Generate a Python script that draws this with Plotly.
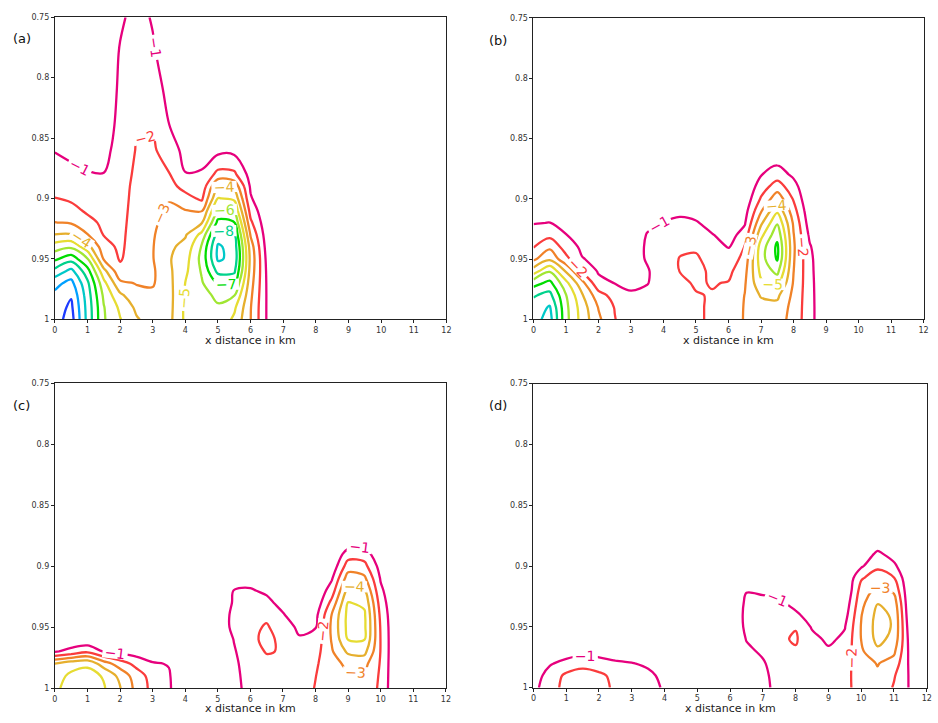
import numpy as np
import plotly.graph_objects as go

# ---------------- data ----------------
X_KM = [0, 0.5, 1, 1.5, 2, 2.5, 3, 3.5, 4, 4.5, 5, 5.5, 6, 6.5, 7, 7.5, 8, 8.5,
        9, 9.5, 10, 10.5, 11, 11.5, 12]
Y_LEV = [0.75, 0.78, 0.81, 0.84, 0.86, 0.88, 0.89, 0.90, 0.91, 0.92, 0.93,
         0.94, 0.95, 0.96, 0.97, 0.98, 0.99, 1.0]
ZERO = [0] * 18

# each inner list = one x column (top -> bottom along Y_LEV)
PANEL_A = [
    [0, 0, -0.2, -0.6, -0.95, -1.45, -1.7, -2.02, -2.5, -3.02, -4.02, -5.5, -6.8, -8.3, -9.7, -10.2, -10.5, -10.6],
    [0, 0, -0.2, -0.5, -0.8, -1.2, -1.5, -1.85, -2.3, -2.9, -4.1, -5.8, -7.6, -9.3, -10.3, -10.9, -11.2, -11.4],
    [0, 0, -0.2, -0.45, -0.7, -1.05, -1.3, -1.55, -1.85, -2.3, -3.05, -4.4, -6.05, -7.4, -8.2, -8.5, -8.65, -8.7],
    [0, 0, -0.2, -0.45, -0.7, -1.02, -1.2, -1.4, -1.6, -1.8, -1.95, -2.4, -2.9, -4.3, -5.3, -5.8, -6.05, -6.1],
    [-0.8, -1.1, -1.2, -1.3, -1.4, -1.5, -1.55, -1.6, -1.65, -1.7, -1.75, -1.8, -1.9, -2.3, -3.2, -4.2, -4.8, -5.05],
    [-1.4, -1.5, -1.7, -1.9, -2.05, -2.2, -2.3, -2.35, -2.4, -2.45, -2.5, -2.55, -2.6, -2.75, -2.95, -3.3, -3.8, -4.1],
    [-0.9, -1.15, -1.5, -1.9, -2.15, -2.4, -2.5, -2.6, -2.7, -2.8, -2.9, -2.95, -2.95, -2.85, -2.9, -3.2, -3.5, -3.6],
    [-0.2, -0.4, -0.7, -1.02, -1.5, -2.05, -2.4, -2.9, -3.2, -3.4, -3.6, -3.8, -3.9, -3.8, -3.7, -3.65, -3.65, -3.7],
    [-0.1, -0.1, -0.2, -0.4, -0.7, -1.03, -1.6, -2.4, -3.03, -3.5, -3.9, -4.3, -4.6, -4.8, -5.02, -5.1, -5.2, -5.2],
    [0, 0, 0, -0.3, -0.6, -1.1, -1.3, -1.8, -2.9, -3.9, -5.3, -6.1, -6.3, -6.1, -5.9, -5.7, -5.6, -5.6],
    [0, 0, 0, -0.2, -0.7, -2.3, -4.05, -5.05, -6.2, -7.3, -8.5, -9.15, -9.15, -8.3, -7.05, -6.2, -5.9, -5.8],
    [0, 0, 0, -0.2, -0.7, -2.2, -3.7, -4.8, -5.9, -7.05, -8.05, -8.6, -8.7, -8.2, -7.1, -6.05, -5.2, -4.8],
    [0, 0, 0, 0, 0, -0.6, -0.85, -1.1, -1.6, -2.2, -2.9, -3.5, -3.7, -3.6, -3.4, -3.2, -3.05, -3.02],
    [0, 0, 0, 0, 0, 0, 0, -0.1, -0.2, -0.3, -0.45, -0.6, -0.75, -0.85, -0.9, -0.92, -0.92, -0.92],
    ZERO, ZERO, ZERO, ZERO, ZERO, ZERO, ZERO, ZERO, ZERO, ZERO, ZERO,
]

PANEL_B = [
    [0, 0, 0, 0, 0, 0, 0, -0.1, -0.5, -0.95, -1.4, -1.95, -2.8, -4.5, -6.6, -7.9, -8.4, -8.6],
    [0, 0, 0, 0, 0, 0, 0, -0.2, -0.6, -1.02, -1.7, -2.8, -3.8, -5.9, -7.3, -8.3, -9.1, -9.4],
    [0, 0, 0, 0, 0, 0, 0, -0.1, -0.35, -0.7, -1.03, -1.55, -2.3, -3.9, -5.3, -6.05, -6.25, -6.3],
    [0, 0, 0, 0, 0, 0, 0, 0, -0.1, -0.25, -0.5, -0.8, -1.05, -1.9, -3.3, -4.1, -4.5, -4.6],
    [0, 0, 0, 0, 0, 0, 0, 0, -0.1, -0.2, -0.35, -0.55, -0.75, -0.9, -1.3, -2.4, -2.95, -3.2],
    [0, 0, 0, 0, 0, 0, 0, 0, 0, -0.1, -0.3, -0.5, -0.7, -0.85, -0.98, -1.6, -1.95, -2.05],
    [0, 0, 0, 0, 0, 0, 0, 0, 0, -0.2, -0.4, -0.6, -0.75, -0.85, -0.92, -1.05, -1.15, -1.2],
    [0, 0, 0, 0, 0, 0, 0, -0.1, -0.4, -0.8, -1.05, -1.1, -1.05, -0.95, -0.97, -1.2, -1.35, -1.4],
    [0, 0, 0, 0, 0, 0, 0, -0.3, -0.7, -1.02, -1.2, -1.3, -1.35, -1.3, -1.35, -1.4, -1.45, -1.5],
    [0, 0, 0, 0, 0, 0, 0, -0.4, -0.8, -1.2, -1.5, -1.8, -2.05, -2.02, -1.8, -1.7, -1.7, -1.7],
    [0, 0, 0, 0, 0, 0, 0, -0.3, -0.6, -1.1, -1.5, -1.85, -2.15, -2.3, -2.1, -1.95, -1.9, -1.9],
    [0, 0, 0, 0, 0, 0, 0, -0.1, -0.3, -0.6, -1.05, -1.4, -1.6, -1.8, -1.95, -2.05, -2.1, -2.1],
    [0, 0, 0, 0, 0, 0, 0, 0, -0.1, -0.3, -0.6, -0.95, -1.3, -1.75, -2.05, -2.3, -2.5, -2.6],
    [0, 0, 0, 0, 0, 0, -0.1, -0.3, -0.6, -0.9, -1.4, -2.05, -2.4, -2.7, -2.9, -3.02, -3.05, -3.05],
    [0, 0, 0, 0, -0.1, -0.95, -1.5, -2.1, -2.9, -3.8, -4.7, -5.5, -5.6, -5.3, -4.8, -4.1, -3.6, -3.4],
    [0, 0, 0, 0, -0.2, -1.5, -2.5, -3.6, -4.8, -5.9, -6.7, -7.2, -7.1, -6.3, -5.3, -4.2, -3.7, -3.5],
    [0, 0, 0, 0, -0.1, -0.8, -1.4, -1.9, -2.4, -2.85, -3.05, -3.15, -3.1, -3.02, -2.9, -2.75, -2.65, -2.6],
    [0, 0, 0, 0, 0, 0, 0, -0.1, -0.3, -0.5, -0.8, -1.1, -1.25, -1.3, -1.35, -1.38, -1.4, -1.4],
    ZERO, ZERO, ZERO, ZERO, ZERO, ZERO, ZERO,
]

PANEL_C = [
    [0, 0, 0, 0, 0, 0, 0, 0, 0, 0, 0, 0, 0, 0, -0.9, -4.02, -4.6, -4.8],
    [0, 0, 0, 0, 0, 0, 0, 0, 0, 0, 0, 0, 0, -0.3, -1.3, -4.6, -5.2, -5.4],
    [0, 0, 0, 0, 0, 0, 0, 0, 0, 0, 0, 0, 0, -0.2, -1.8, -4.8, -5.4, -5.5],
    [0, 0, 0, 0, 0, 0, 0, 0, 0, 0, 0, 0, 0, -0.2, -0.95, -3.5, -4.9, -5.1],
    [0, 0, 0, 0, 0, 0, 0, 0, 0, 0, 0, 0, 0, -0.1, -0.7, -2.5, -3.7, -4.05],
    [0, 0, 0, 0, 0, 0, 0, 0, 0, 0, 0, 0, 0, 0, -0.5, -1.7, -2.5, -2.7],
    [0, 0, 0, 0, 0, 0, 0, 0, 0, 0, 0, 0, 0, 0, -0.3, -1.1, -1.6, -1.7],
    [0, 0, 0, 0, 0, 0, 0, 0, 0, 0, 0, 0, 0, 0, -0.1, -0.95, -1.1, -1.15],
    ZERO, ZERO, ZERO,
    [0, 0, 0, 0, 0, 0, 0, 0, 0, -1.05, -1.15, -1.4, -1.4, -1.05, -0.9, -0.8, -0.75, -0.7],
    [0, 0, 0, 0, 0, 0, 0, 0, -0.6, -1.1, -1.4, -1.6, -1.75, -1.8, -1.7, -1.5, -1.4, -1.35],
    [0, 0, 0, 0, 0, 0, 0, 0, -0.3, -0.8, -1.3, -1.8, -2.1, -2.2, -2.05, -1.8, -1.65, -1.6],
    [0, 0, 0, 0, 0, 0, 0, 0, 0, -0.1, -0.6, -1.1, -1.5, -1.8, -1.95, -1.85, -1.7, -1.6],
    [0, 0, 0, 0, 0, 0, 0, 0, 0, 0, 0, -0.3, -0.8, -1.1, -1.3, -1.4, -1.45, -1.5],
    [0, 0, 0, 0, 0, 0, 0, 0, 0, -0.1, -0.3, -0.7, -0.95, -1.3, -1.6, -1.85, -1.98, -2.05],
    [0, 0, 0, 0, 0, 0, 0, -0.3, -0.9, -1.5, -2.3, -3.05, -3.2, -3.1, -2.9, -2.7, -2.55, -2.5],
    [0, 0, 0, 0, 0, -0.3, -1.5, -2.5, -3.5, -4.4, -5.05, -5.3, -5.3, -5.05, -4.2, -3.2, -2.9, -2.8],
    [0, 0, 0, 0, 0, -0.7, -1.5, -2.3, -3.2, -4.05, -4.8, -5.15, -5.2, -5.05, -4.3, -3.3, -2.85, -2.7],
    [0, 0, 0, 0, 0, 0, -0.2, -0.6, -0.9, -1.2, -1.5, -1.75, -1.9, -1.95, -1.95, -1.9, -1.85, -1.8],
    ZERO, ZERO, ZERO, ZERO,
]

PANEL_D = [
    [0, 0, 0, 0, 0, 0, 0, 0, 0, 0, 0, 0, 0, 0, 0, -0.2, -0.5, -0.7],
    [0, 0, 0, 0, 0, 0, 0, 0, 0, 0, 0, 0, 0, 0, -0.3, -0.9, -1.4, -1.6],
    [0, 0, 0, 0, 0, 0, 0, 0, 0, 0, 0, 0, 0, 0, -0.5, -1.3, -2.2, -2.3],
    [0, 0, 0, 0, 0, 0, 0, 0, 0, 0, 0, 0, 0, 0, -0.6, -1.7, -2.4, -2.45],
    [0, 0, 0, 0, 0, 0, 0, 0, 0, 0, 0, 0, 0, 0, -0.5, -1.5, -2.2, -2.3],
    [0, 0, 0, 0, 0, 0, 0, 0, 0, 0, 0, 0, 0, 0, -0.3, -1.2, -1.75, -1.85],
    [0, 0, 0, 0, 0, 0, 0, 0, 0, 0, 0, 0, 0, 0, -0.2, -1.05, -1.45, -1.5],
    [0, 0, 0, 0, 0, 0, 0, 0, 0, 0, 0, 0, 0, 0, -0.1, -0.8, -1.25, -1.3],
    [0, 0, 0, 0, 0, 0, 0, 0, 0, 0, 0, 0, 0, 0, 0, -0.2, -0.7, -0.9],
    ZERO, ZERO, ZERO, ZERO,
    [0, 0, 0, 0, 0, 0, 0, 0, 0, -0.95, -1.2, -1.3, -1.25, -1.05, -0.8, -0.6, -0.5, -0.45],
    [0, 0, 0, 0, 0, 0, 0, 0, 0, -0.8, -1.3, -1.5, -1.6, -1.5, -1.15, -0.9, -0.8, -0.75],
    [0, 0, 0, 0, 0, 0, 0, 0, 0, -0.6, -1.2, -1.5, -1.75, -1.85, -1.75, -1.5, -1.35, -1.3],
    [0, 0, 0, 0, 0, 0, 0, 0, 0, 0, -0.6, -1.2, -1.95, -2.1, -1.9, -1.7, -1.6, -1.55],
    [0, 0, 0, 0, 0, 0, 0, 0, 0, 0, 0, -0.5, -0.9, -1.3, -1.5, -1.6, -1.65, -1.65],
    [0, 0, 0, 0, 0, 0, 0, 0, 0, 0, 0, 0, -0.3, -0.8, -1.15, -1.5, -1.7, -1.75],
    [0, 0, 0, 0, 0, 0, 0, 0, 0, 0, -0.3, -0.6, -0.95, -1.2, -1.4, -1.6, -1.75, -1.8],
    [0, 0, 0, 0, 0, 0, -0.3, -0.85, -1.9, -2.4, -2.7, -2.95, -3.05, -3.02, -2.85, -2.6, -2.4, -2.3],
    [0, 0, 0, 0, 0, -0.4, -1.2, -1.8, -2.5, -3.3, -3.95, -4.3, -4.4, -4.3, -3.8, -3.05, -2.85, -2.8],
    [0, 0, 0, 0, 0, 0, -0.6, -1.2, -2.05, -2.8, -3.5, -3.85, -3.9, -3.7, -3.2, -2.6, -2.1, -1.9],
    [0, 0, 0, 0, 0, 0, 0, 0, 0, 0, 0, -0.1, -0.3, -0.5, -0.65, -0.75, -0.85, -0.88],
    ZERO,
]

PANEL_TAGS = ["(a)", "(b)", "(c)", "(d)"]
Y_TICKS = [0.75, 0.8, 0.85, 0.9, 0.95, 1.0]
Y_TICK_TEXT = ["0.75", "0.8", "0.85", "0.9", "0.95", "1"]
X_TICKS = list(range(0, 13))
X_TITLE = "x distance in km"

# contour colours (GrADS-like rainbow), level -13 ... -1
LEVEL_COLORS = [
    "rgb(160,0,200)", "rgb(130,0,220)", "rgb(30,60,255)", "rgb(0,160,255)",
    "rgb(0,200,200)", "rgb(0,210,140)", "rgb(0,220,0)", "rgb(160,230,50)",
    "rgb(230,220,50)", "rgb(230,175,45)", "rgb(240,130,40)", "rgb(250,60,60)",
    "rgb(230,0,125)",
]

# ---------------- layout geometry ----------------
W, H = 938, 723
# plot boxes in pixels: (left, right, top, bottom)
BOXES = [(52.3, 447.2, 13.3, 319.3),
         (535.0, 928.5, 14.0, 319.3),
         (52.3, 446.7, 384.0, 692.7),
         (535.0, 931.7, 384.3, 692.3)]
TAG_POS = [(19, 35), (499, 37), (19, 407), (499, 407)]

colorscale = [[i / 12.0, c] for i, c in enumerate(LEVEL_COLORS)]
panels = [PANEL_A, PANEL_B, PANEL_C, PANEL_D]

fig = go.Figure()
FONT = "DejaVu Sans"

for k, cols in enumerate(panels):
    z = np.array(cols, dtype=float).T.tolist()
    sfx = "" if k == 0 else str(k + 1)
    fig.add_trace(go.Contour(
        x=X_KM, y=Y_LEV, z=z,
        xaxis="x" + sfx, yaxis="y" + sfx,
        zmin=-13, zmax=-1, zauto=False,
        colorscale=colorscale, showscale=False,
        contours=dict(start=-13, end=-1, size=1, coloring="lines",
                      showlabels=True,
                      labelfont=dict(family=FONT, size=14)),
        line=dict(width=2.3, smoothing=1.0),
        hoverinfo="skip",
    ))
    l, r, t, b = BOXES[k]
    xdom = [l / W, r / W]
    ydom = [1 - b / H, 1 - t / H]
    fig.layout["xaxis" + sfx] = dict(
        domain=xdom, range=[0, 12], anchor="y" + sfx,
        tickmode="array", tickvals=X_TICKS, ticks="outside", ticklen=3,
        tickcolor="#222", showline=True, linecolor="#222", linewidth=1,
        mirror=True, showgrid=False, zeroline=False,
        tickfont=dict(family=FONT, size=8, color="#333"),
    )
    fig.layout["yaxis" + sfx] = dict(
        domain=ydom, range=[1.0, 0.75], anchor="x" + sfx,
        tickmode="array", tickvals=Y_TICKS, ticktext=Y_TICK_TEXT,
        ticks="outside", ticklen=3, tickcolor="#222",
        showline=True, linecolor="#222", linewidth=1, mirror=True,
        showgrid=False, zeroline=False,
        tickfont=dict(family=FONT, size=8, color="#333"),
    )
    # x-axis title
    fig.add_annotation(x=(l + r) / 2 / W, y=1 - (b + 21) / H,
                       xref="paper", yref="paper", text=X_TITLE,
                       showarrow=False, xanchor="center", yanchor="middle",
                       font=dict(family=FONT, size=11, color="#222"))
    # panel tag
    tx, ty = TAG_POS[k]
    fig.add_annotation(x=tx / W, y=1 - ty / H, xref="paper", yref="paper",
                       text=PANEL_TAGS[k], showarrow=False,
                       xanchor="center", yanchor="middle",
                       font=dict(family=FONT, size=13, color="#111"))

fig.update_layout(width=W, height=H, margin=dict(l=0, r=0, t=0, b=0),
                  paper_bgcolor="white", plot_bgcolor="white",
                  showlegend=False)

fig.write_html("out.html")
